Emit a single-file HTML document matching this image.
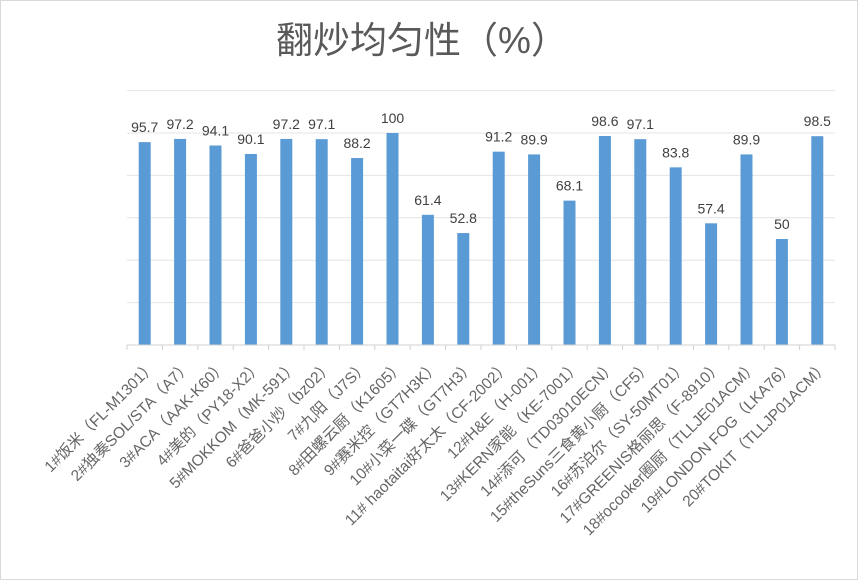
<!DOCTYPE html>
<html><head><meta charset="utf-8"><style>
body{margin:0;background:#fff}
#wrap{position:relative;width:856px;height:578px;border:1px solid #d9d9d9;overflow:hidden}
text{font-family:"Liberation Sans","Noto Sans CJK SC",sans-serif}
</style></head><body>
<div id="wrap">
<svg id="chart" width="856" height="578">
<text x="421" y="52" font-size="37" fill="#595959" text-anchor="middle">翻炒均匀性（%）</text>
</svg>
</div>
<script>
const categories=["1#饭米（FL-M1301）","2#独奏SOL/STA（A7）","3#ACA（AAK-K60）","4#美的（PY18-X2）","5#MOKKOM（MK-591）","6#爸爸小炒（bz02）","7#九阳（J7S）","8#田螺云厨（K1605）","9#赛米控（GT7H3K）","10#小菜一碟（GT7H3）","11# haotaitai好太太（CF-2002）","12#H&E（H-001）","13#KERN家能（KE-7001）","14#添可（TD03010ECN）","15#theSuns三食黄小厨（CF5）","16#苏泊尔（SY-50MT01）","17#GREENIS格丽思（F-8910）","18#ocooker圈厨（TLLJE01ACM）","19#LONDON FOG（LKA76）","20#TOKIT（TLLJP01ACM）"];
const values=[95.7,97.2,94.1,90.1,97.2,97.1,88.2,100,61.4,52.8,91.2,89.9,68.1,98.6,97.1,83.8,57.4,89.9,50,98.5];
const valueLabels=["95.7","97.2","94.1","90.1","97.2","97.1","88.2","100","61.4","52.8","91.2","89.9","68.1","98.6","97.1","83.8","57.4","89.9","50","98.5"];
const yTicks=[0,20,40,60,80,100,120];
const svg=document.getElementById('chart');
const NS='http://www.w3.org/2000/svg';
const x0=126,x1=834,y0=344,pxPerUnit=2.12;
const bw=(x1-x0)/categories.length;
const y=v=>y0-v*pxPerUnit;
const xc=i=>x0+bw*(i+0.5);
function mk(t,a){const e=document.createElementNS(NS,t);for(const k in a)e.setAttribute(k,a[k]);svg.appendChild(e);return e;}
yTicks.forEach(t=>{if(t===0)return;
const g=mk('line',{x1:x0,x2:x1,y1:y(t),y2:y(t),stroke:'#e4e4e4','stroke-width':1});

});
values.forEach((v,i)=>{
const r=mk('rect',{x:xc(i)-6,y:y(v),width:12,height:v*pxPerUnit,fill:'#5b9bd5'});


const t=mk('text',{x:xc(i),y:y(v)-10,'font-size':14,fill:'#404040','text-anchor':'middle'});
t.textContent=valueLabels[i];


const l=mk('text',{x:0,y:0,'font-size':15.5,fill:'#666','text-anchor':'end',transform:`translate(${xc(i)+12},${y0+22}) rotate(-45)`});
l.textContent=categories[i];


});
const ax=mk('line',{x1:x0,x2:x1,y1:y0,y2:y0,stroke:'#d0d0d0','stroke-width':1});


for(let i=0;i<=categories.length;i++){
const tk=mk('line',{x1:x0+bw*i,x2:x0+bw*i,y1:y0,y2:y0+5,stroke:'#d0d0d0'});

}
</script>
</body></html>
